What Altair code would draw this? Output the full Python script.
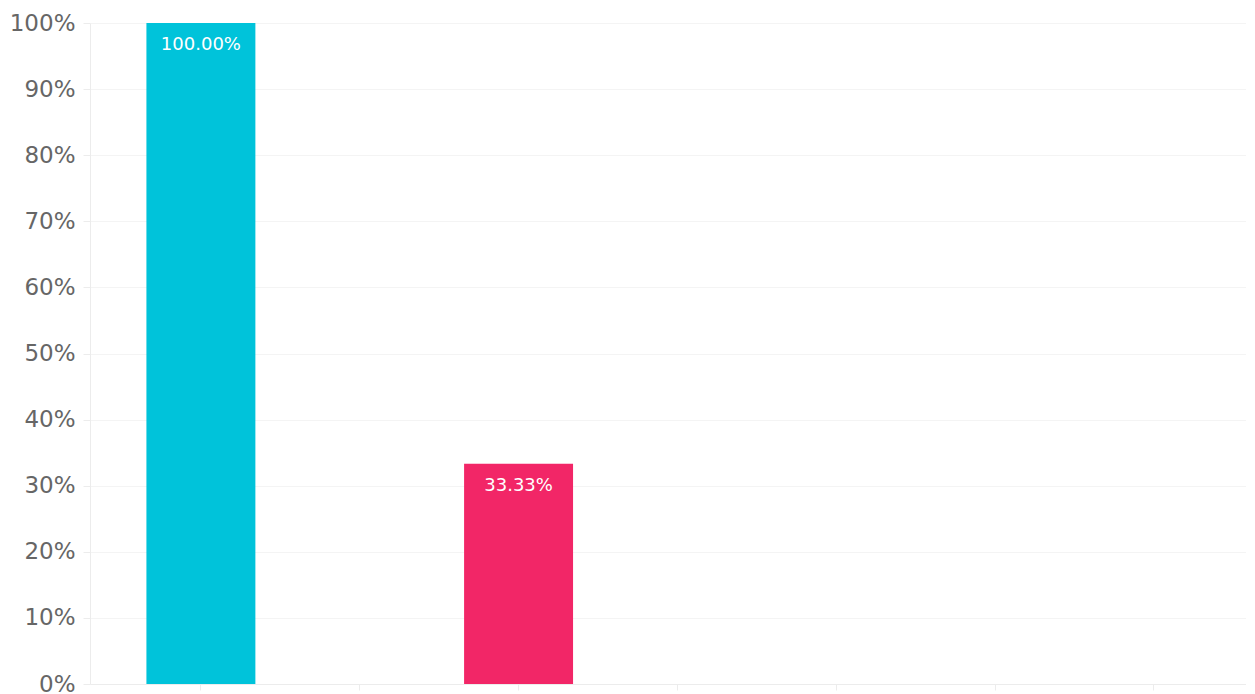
import altair as alt
import pandas as pd

categories = ["Cat 1", "Cat 2", "Cat 3", "Cat 4", "Cat 5", "Cat 6", "Cat 7"]
values = [1.0, 0.0, 0.3333, 0.0, 0.0, 0.0, 0.0]
colors = ["#00C3DA", "#F22667", "#F22667", "#00C3DA", "#F22667", "#00C3DA", "#F22667"]
labels = ["100.00%", "", "33.33%", "", "", "", ""]

df = pd.DataFrame({"category": categories, "value": values, "color": colors, "label": labels})

x = alt.X("category:N", sort=categories,
          scale=alt.Scale(paddingInner=0.314, paddingOuter=0.296, align=0.6),
          axis=alt.Axis(title=None, labels=False, grid=False,
                        domainColor="#ececec", tickColor="#ececec", tickSize=6))
y = alt.Y("value:Q", scale=alt.Scale(domain=[0, 1], nice=False),
          axis=alt.Axis(title=None, format=".0%", values=[i / 10 for i in range(11)],
                        labelFontSize=23, labelColor="#666666", labelFont="DejaVu Sans",
                        labelPadding=8, tickSize=7, tickColor="#ececec",
                        domainColor="#ececec", gridColor="#f4f4f4"))

bars = alt.Chart(df).mark_bar().encode(
    x=x, y=y, color=alt.Color("color:N", scale=None)
)
text = alt.Chart(df).mark_text(
    color="white", fontSize=18, font="DejaVu Sans", baseline="middle", dy=22
).encode(x=alt.X("category:N", sort=categories), y="value:Q", text="label:N")

chart = (bars + text).properties(
    width=1156, height=661,
    padding={"left": 1, "top": 4, "right": 0, "bottom": 0}
).configure_view(stroke=None).configure_axis(labelFont="DejaVu Sans")

chart.save("out.html", embed_options={"renderer": "svg", "actions": False})
